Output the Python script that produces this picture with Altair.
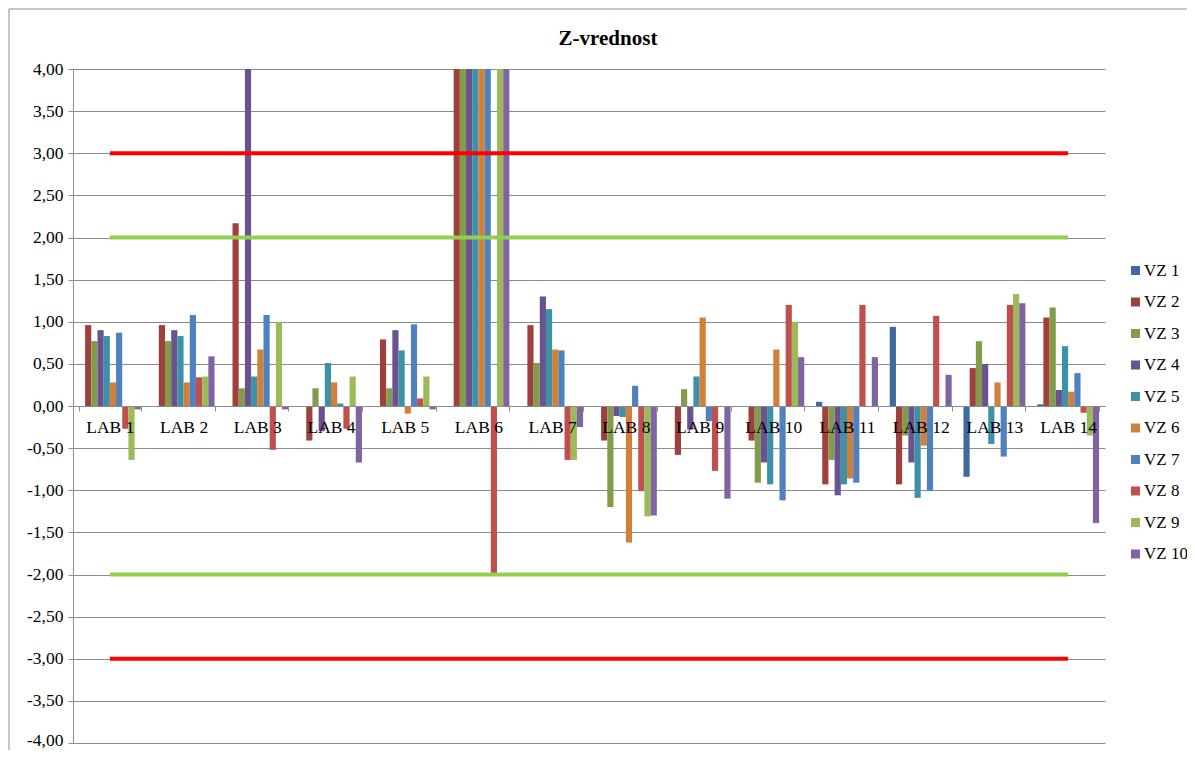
import altair as alt
import pandas as pd

# ---- data ----
categories = ["LAB 1", "LAB 2", "LAB 3", "LAB 4", "LAB 5", "LAB 6", "LAB 7",
              "LAB 8", "LAB 9", "LAB 10", "LAB 11", "LAB 12", "LAB 13", "LAB 14"]
series = ["VZ 1", "VZ 2", "VZ 3", "VZ 4", "VZ 5", "VZ 6", "VZ 7", "VZ 8", "VZ 9", "VZ 10"]

# values above 4,00 are cut off by the axis in the original (shown as 5.0)
vz1 = [0.00, 0.00, 0.00, 0.00, 0.00, 0.00, 0.00, 0.00, 0.00, 0.00, 0.05, 0.94, -0.84, 0.02]
vz2 = [0.96, 0.96, 2.17, -0.41, 0.79, 5.00, 0.96, -0.41, -0.58, -0.41, -0.93, -0.93, 0.45, 1.05]
vz3 = [0.77, 0.77, 0.21, 0.21, 0.21, 5.00, 0.51, -1.20, 0.20, -0.91, -0.64, -0.35, 0.77, 1.17]
vz4 = [0.90, 0.90, 5.00, -0.30, 0.90, 5.00, 1.30, -0.12, -0.28, -0.67, -1.06, -0.67, 0.50, 0.19]
vz5 = [0.83, 0.83, 0.35, 0.51, 0.66, 5.00, 1.15, -0.13, 0.35, -0.93, -0.93, -1.09, -0.45, 0.71]
vz6 = [0.28, 0.28, 0.67, 0.28, -0.09, 5.00, 0.67, -1.62, 1.05, 0.67, -0.86, -0.47, 0.28, 0.17]
vz7 = [0.87, 1.08, 1.08, 0.03, 0.97, 5.00, 0.66, 0.24, -0.18, -1.12, -0.91, -1.01, -0.60, 0.39]
vz8 = [-0.27, 0.34, -0.52, -0.27, 0.09, -2.00, -0.64, -1.01, -0.77, 1.20, 1.20, 1.07, 1.20, -0.08]
vz9 = [-0.64, 0.35, 1.00, 0.35, 0.35, 5.00, -0.64, -1.31, 0.00, 1.00, 0.00, 0.00, 1.33, -0.35]
vz10 = [-0.04, 0.59, -0.04, -0.67, -0.04, 5.00, -0.25, -1.30, -1.10, 0.58, 0.58, 0.37, 1.22, -1.39]

series_values = [vz1, vz2, vz3, vz4, vz5, vz6, vz7, vz8, vz9, vz10]
series_colors = ["#3F6A9F", "#A0403D", "#839C4B", "#6A5190", "#3D91A6",
                 "#D27F3A", "#4F81BD", "#C0504D", "#9BBB59", "#8064A2"]

y_ticks = [-4.0, -3.5, -3.0, -2.5, -2.0, -1.5, -1.0, -0.5, 0.0,
           0.5, 1.0, 1.5, 2.0, 2.5, 3.0, 3.5, 4.0]
red_limits = [3.0, -3.0]
green_limits = [2.0, -2.0]

# ---- tables built from the arrays ----
rows = []
for s, vals in zip(series, series_values):
    for c, v in zip(categories, vals):
        rows.append({"lab": c, "vz": s, "z": v})
df = pd.DataFrame(rows)

red_df = pd.DataFrame([{"lab": c, "z": l, "limit": str(l)} for l in red_limits for c in categories])
green_df = pd.DataFrame([{"lab": c, "z": l, "limit": str(l)} for l in green_limits for c in categories])

FONT = "Liberation Serif"
GRID = "#8C8C8C"

x_enc = alt.X(
    "lab:N", sort=categories,
    scale=alt.Scale(paddingInner=0.16, paddingOuter=0.08),
    axis=alt.Axis(title=None, orient="bottom", offset=-337, labelAngle=0,
                  tickBand="extent", tickSize=5, tickColor=GRID, domainColor=GRID,
                  labelFont=FONT, labelFontSize=17.5, labelColor="black",
                  labelPadding=7, grid=False, zindex=1),
)
y_enc = alt.Y(
    "z:Q",
    scale=alt.Scale(domain=[-4, 4], nice=False, zero=False),
    axis=alt.Axis(title=None, values=y_ticks, grid=True, gridColor=GRID,
                  domainColor=GRID, tickColor=GRID, tickSize=5,
                  labelFont=FONT, labelFontSize=17.5, labelColor="black",
                  labelPadding=5,
                  labelOffset=alt.expr("datum.value == -4 ? -3 : 0"),
                  labelExpr="replace(replace(format(datum.value, '.2f'), '.', ','), '\u2212', '-')"),
)

bars = alt.Chart(df).mark_bar(clip=True).encode(
    x=x_enc,
    xOffset=alt.XOffset("vz:N", sort=series, scale=alt.Scale(paddingInner=0, paddingOuter=0)),
    y=y_enc,
    color=alt.Color(
        "vz:N", sort=series,
        scale=alt.Scale(domain=series, range=series_colors),
        legend=alt.Legend(title=None, orient="none", legendX=1054, legendY=193,
                          symbolType="square", symbolSize=81, symbolStrokeWidth=0,
                          labelFont=FONT, labelFontSize=17, labelColor="black",
                          rowPadding=13.5, labelOffset=0, padding=0),
    ),
)

green_lines = alt.Chart(green_df).mark_line(color="#92D050", strokeWidth=4).encode(
    x=x_enc, y=y_enc, detail="limit:N"
)
red_lines = alt.Chart(red_df).mark_line(color="#FF0000", strokeWidth=4).encode(
    x=x_enc, y=y_enc, detail="limit:N"
)

frame = alt.Chart(alt.Data(values=[{"f": 1}])).mark_rect(
    fill="transparent", stroke="#8C8C8C", strokeWidth=1
).encode(
    x=alt.value(-64), x2=alt.value(1200), y=alt.value(-60), y2=alt.value(800)
)

chart = alt.layer(bars, green_lines, red_lines, frame).properties(
    width=1032,
    height=674,
    autosize=alt.AutoSizeParams(type="none"),
    padding={"left": 65, "top": 61, "right": 82, "bottom": 7},
    title=alt.Title("Z-vrednost", font=FONT, fontSize=21, fontWeight="bold",
                    color="black", anchor="middle", frame="group", dx=19,
                    offset=0, dy=57, baseline="alphabetic"),
).configure_view(stroke="transparent")

chart.save("out.html", embed_options={"renderer": "svg", "actions": False})
